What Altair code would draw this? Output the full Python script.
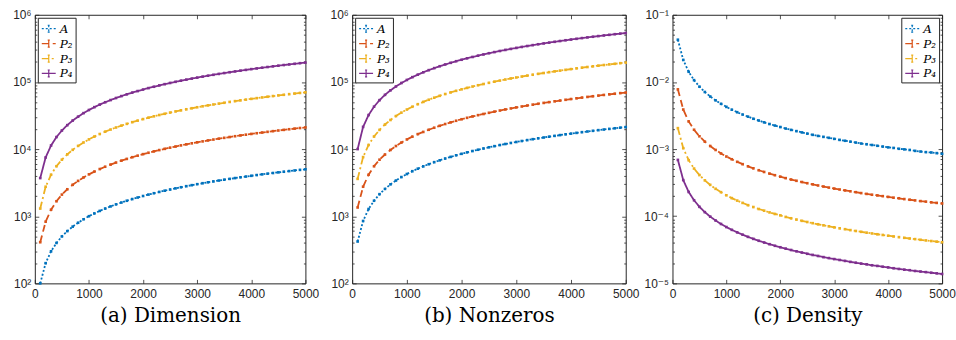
import altair as alt
import pandas as pd

SERIES = ["A", "P₂", "P₃", "P₄"]
COLORS = ["#0072BD", "#D95319", "#EDB120", "#7E2F8E"]
DASHES = [[2, 2], [7, 4], [7, 3, 2, 3], [1, 0]]

x = [100, 200, 300, 400, 500, 600, 700, 800, 900, 1000,
     1100, 1200, 1300, 1400, 1500, 1600, 1700, 1800, 1900, 2000,
     2100, 2200, 2300, 2400, 2500, 2600, 2700, 2800, 2900, 3000,
     3100, 3200, 3300, 3400, 3500, 3600, 3700, 3800, 3900, 4000,
     4100, 4200, 4300, 4400, 4500, 4600, 4700, 4800, 4900, 5000]

# (a) Dimension
dim_A = [100, 200, 300, 400, 500, 600, 700, 800, 900, 1000,
         1100, 1200, 1300, 1400, 1500, 1600, 1700, 1800, 1900, 2000,
         2100, 2200, 2300, 2400, 2500, 2600, 2700, 2800, 2900, 3000,
         3100, 3200, 3300, 3400, 3500, 3600, 3700, 3800, 3900, 4000,
         4100, 4200, 4300, 4400, 4500, 4600, 4700, 4800, 4900, 5000]
dim_P2 = [410, 830, 1250, 1670, 2100, 2520, 2940, 3360, 3780, 4200,
          4620, 5040, 5460, 5880, 6300, 6720, 7140, 7560, 7980, 8400,
          8820, 9240, 9660, 10080, 10500, 10920, 11340, 11760, 12180, 12600,
          13020, 13440, 13860, 14280, 14700, 15120, 15540, 15960, 16380, 16800,
          17220, 17640, 18060, 18480, 18900, 19320, 19740, 20160, 20580, 21000]
dim_P3 = [1300, 2750, 4150, 5550, 6950, 8350, 9750, 11150, 12550, 13950,
          15350, 16750, 18150, 19550, 20950, 22350, 23750, 25150, 26550, 27950,
          29350, 30750, 32150, 33550, 34950, 36350, 37750, 39150, 40550, 41950,
          43350, 44750, 46150, 47550, 48950, 50350, 51750, 53150, 54550, 55950,
          57350, 58750, 60150, 61550, 62950, 64350, 65750, 67150, 68550, 69950]
dim_P4 = [3700, 7500, 11300, 15100, 18900, 22700, 26600, 30400, 34300, 38200,
          42100, 46000, 49800, 53700, 57600, 61500, 65400, 69300, 73100, 77000,
          80900, 84800, 88700, 92600, 96500, 100400, 104300, 108200, 112100, 116000,
          119900, 123800, 127700, 131600, 135500, 139400, 143300, 147200, 151100, 155000,
          158900, 162800, 166700, 170600, 174500, 178400, 182300, 186200, 190100, 194000]

# (b) Nonzeros
nnz_A = [420, 850, 1280, 1700, 2130, 2550, 2980, 3400, 3830, 4250,
         4680, 5100, 5530, 5950, 6380, 6800, 7230, 7650, 8080, 8500,
         8930, 9350, 9780, 10200, 10630, 11050, 11480, 11900, 12330, 12750,
         13180, 13600, 14030, 14450, 14880, 15300, 15730, 16150, 16580, 17000,
         17430, 17850, 18280, 18700, 19130, 19550, 19980, 20400, 20830, 21250]
nnz_P2 = [1350, 2750, 4150, 5550, 6950, 8300, 9700, 11100, 12500, 13900,
          15300, 16700, 18000, 19400, 20800, 22200, 23600, 25000, 26400, 27800,
          29200, 30600, 32000, 33300, 34700, 36100, 37500, 38900, 40300, 41700,
          43100, 44500, 45900, 47300, 48700, 50000, 51400, 52800, 54200, 55600,
          57000, 58400, 59800, 61200, 62600, 64000, 65300, 66700, 68100, 69500]
nnz_P3 = [3600, 7600, 11500, 15400, 19300, 23200, 27100, 31000, 34900, 38800,
          42700, 46600, 50400, 54300, 58200, 62100, 66000, 69800, 73700, 77600,
          81500, 85400, 89200, 93100, 97000, 100900, 104800, 108600, 112500, 116400,
          120300, 124200, 128000, 131900, 135800, 139700, 143600, 147400, 151300, 155200,
          159100, 163000, 166800, 170700, 174600, 178500, 182400, 186200, 190100, 194000]
nnz_P4 = [10000, 21400, 32100, 42800, 53500, 64200, 74900, 85600, 96300, 107000,
          117700, 128400, 139100, 149800, 160500, 171200, 181900, 192600, 203300, 214000,
          224700, 235400, 246100, 256800, 267500, 278200, 288900, 299600, 310300, 321000,
          331700, 342400, 353100, 363800, 374500, 385200, 395900, 406600, 417300, 428000,
          438700, 449400, 460100, 470800, 481500, 492200, 502900, 513600, 524300, 535000]

# (c) Density
den_A = [0.0425, 0.02125, 0.01417, 0.01063, 0.0085, 0.00708, 0.00607, 0.00531, 0.00472, 0.00425,
         0.00386, 0.00354, 0.00327, 0.00304, 0.00283, 0.00266, 0.0025, 0.00236, 0.00224, 0.00213,
         0.00202, 0.00193, 0.00185, 0.00177, 0.0017, 0.00163, 0.00157, 0.00152, 0.00147, 0.00142,
         0.00137, 0.00133, 0.00129, 0.00125, 0.00121, 0.00118, 0.00115, 0.00112, 0.00109, 0.00106,
         0.00104, 0.00101, 0.00099, 0.00097, 0.00094, 0.00092, 0.0009, 0.00089, 0.00087, 0.00085]
den_P2 = [0.00775, 0.00388, 0.00258, 0.00194, 0.00155, 0.00129, 0.00111, 0.00097, 0.00086, 0.000775,
          0.000705, 0.000646, 0.000596, 0.000554, 0.000517, 0.000484, 0.000456, 0.000431, 0.000408, 0.000388,
          0.000369, 0.000352, 0.000337, 0.000323, 0.00031, 0.000298, 0.000287, 0.000277, 0.000267, 0.000258,
          0.00025, 0.000242, 0.000235, 0.000228, 0.000221, 0.000215, 0.000209, 0.000204, 0.000199, 0.000194,
          0.000189, 0.000185, 0.00018, 0.000176, 0.000172, 0.000168, 0.000165, 0.000161, 0.000158, 0.000155]
den_P3 = [0.00205, 0.00103, 0.000683, 0.000513, 0.00041, 0.000342, 0.000293, 0.000256, 0.000228, 0.000205,
          0.000186, 0.000171, 0.000158, 0.000146, 0.000137, 0.000128, 0.000121, 0.000114, 0.000108, 0.000103,
          9.76e-5, 9.32e-5, 8.91e-5, 8.54e-5, 8.2e-5, 7.88e-5, 7.59e-5, 7.32e-5, 7.07e-5, 6.83e-5,
          6.61e-5, 6.41e-5, 6.21e-5, 6.03e-5, 5.86e-5, 5.69e-5, 5.54e-5, 5.39e-5, 5.26e-5, 5.13e-5,
          5.0e-5, 4.88e-5, 4.77e-5, 4.66e-5, 4.56e-5, 4.46e-5, 4.36e-5, 4.27e-5, 4.18e-5, 4.1e-5]
den_P4 = [0.00069, 0.000345, 0.00023, 0.000173, 0.000138, 0.000115, 9.86e-5, 8.63e-5, 7.67e-5, 6.9e-5,
          6.27e-5, 5.75e-5, 5.31e-5, 4.93e-5, 4.6e-5, 4.31e-5, 4.06e-5, 3.83e-5, 3.63e-5, 3.45e-5,
          3.29e-5, 3.14e-5, 3.0e-5, 2.88e-5, 2.76e-5, 2.65e-5, 2.56e-5, 2.46e-5, 2.38e-5, 2.3e-5,
          2.23e-5, 2.16e-5, 2.09e-5, 2.03e-5, 1.97e-5, 1.92e-5, 1.86e-5, 1.82e-5, 1.77e-5, 1.73e-5,
          1.68e-5, 1.64e-5, 1.6e-5, 1.57e-5, 1.53e-5, 1.5e-5, 1.47e-5, 1.44e-5, 1.41e-5, 1.38e-5]

x_ticks = [0, 1000, 2000, 3000, 4000, 5000]
y_major_ab = [1e2, 1e3, 1e4, 1e5, 1e6]
y_major_c = [1e-5, 1e-4, 1e-3, 1e-2, 1e-1]
minor_mult = [2, 3, 4, 5, 6, 7, 8, 9]


def minors(majors):
    return [m * k for m in majors[:-1] for k in minor_mult]


def long_df(lists):
    rows = []
    for s, vals in zip(SERIES, lists):
        for xv, v in zip(x, vals):
            rows.append({"x": xv, "v": v, "s": s})
    return pd.DataFrame(rows)


AXC = "#262626"
FONT = "Liberation Sans, DejaVu Sans"
SUP = "['⁻⁵','⁻⁴','⁻³','⁻²','⁻¹','⁰','¹','²','³','⁴','⁵','⁶'][round(log(datum.value)/LN10)+5]"
LEG_PATH = "M-1,0H1M0,-0.5V0.5M-0.15,-0.5H0.15M-0.15,0.5H0.15"
H = 270


def panel(df, ydom, majors, caption, lorient, w):
    xs = alt.Scale(domain=[0, 5000], nice=False, zero=True)
    ys = alt.Scale(type="log", domain=ydom, nice=False)
    base = alt.Chart(df)
    leg = alt.Legend(orient=lorient, offset=3, padding=3, title=None,
                     strokeColor=AXC, fillColor="white",
                     labelFont="DejaVu Serif", labelFontStyle="italic",
                     labelFontSize=12, labelColor="black",
                     symbolType=LEG_PATH, symbolSize=196, symbolStrokeWidth=1.2,
                     rowPadding=1, labelOffset=3)
    color = alt.Color("s:N", scale=alt.Scale(domain=SERIES, range=COLORS), legend=leg)
    dash = alt.StrokeDash("s:N", scale=alt.Scale(domain=SERIES, range=DASHES), legend=leg)

    main = base.mark_line(strokeWidth=1.8).encode(
        x=alt.X("x:Q", scale=xs, axis=alt.Axis(
            orient="bottom", values=x_ticks, format="d", ticks=False, domain=False,
            grid=False, labelFont=FONT, labelFontSize=12, labelColor=AXC,
            labelPadding=5, labelFlush=False, title=caption,
            titleFont="DejaVu Serif", titleFontSize=20, titleFontWeight="normal",
            titleColor="black", titlePadding=6)),
        y=alt.Y("v:Q", scale=ys, axis=alt.Axis(
            orient="left", values=majors, labelExpr="'10' + " + SUP,
            ticks=False, domain=False, grid=False, labelFont=FONT,
            labelFontSize=12, labelColor=AXC, labelPadding=4, title=None)),
        color=color, strokeDash=dash, detail="s:N")

    pts = base.mark_point(shape="square", filled=True, size=7, opacity=1).encode(
        x=alt.X("x:Q", scale=xs, axis=None),
        y=alt.Y("v:Q", scale=ys, axis=None),
        color=alt.Color("s:N", scale=alt.Scale(domain=SERIES, range=COLORS), legend=None))

    def tick_axis(orient, vals, size, offset):
        return alt.Axis(orient=orient, offset=offset, values=vals, labels=False,
                        domain=False, ticks=True, tickSize=size, tickColor=AXC,
                        tickWidth=0.8, grid=False, title=None)

    def ghost(xaxis=None, yaxis=None):
        return base.mark_point(opacity=0).encode(
            x=alt.X("x:Q", scale=xs, axis=xaxis),
            y=alt.Y("v:Q", scale=ys, axis=yaxis))

    layers = [
        main, pts,
        ghost(yaxis=tick_axis("right", majors, 4, -w)),
        ghost(yaxis=tick_axis("left", majors, 4, -w)),
        ghost(yaxis=tick_axis("right", minors(majors), 2, -w)),
        ghost(yaxis=tick_axis("left", minors(majors), 2, -w)),
        ghost(xaxis=tick_axis("top", x_ticks, 4, -H)),
        ghost(xaxis=tick_axis("bottom", x_ticks, 4, -H)),
    ]
    return alt.layer(*layers).resolve_axis(x="independent", y="independent").properties(
        width=w, height=H)


pa = panel(long_df([dim_A, dim_P2, dim_P3, dim_P4]), [1e2, 1e6], y_major_ab,
           "(a) Dimension", "top-left", 272)
pb = panel(long_df([nnz_A, nnz_P2, nnz_P3, nnz_P4]), [1e2, 1e6], y_major_ab,
           "(b) Nonzeros", "top-left", 275)
pc = panel(long_df([den_A, den_P2, den_P3, den_P4]), [1e-5, 1e-1], y_major_c,
           "(c) Density", "top-right", 271)

chart = alt.hconcat(pa, pb, pc, spacing=47, bounds="flush").resolve_scale(
    x="independent", y="independent", color="independent", strokeDash="independent"
).properties(
    padding={"left": 11, "top": 7, "right": 0, "bottom": 0},
    background="white",
).configure_view(stroke=AXC, strokeWidth=1)

chart.save("out.html", embed_options={"renderer": "svg", "actions": False})
